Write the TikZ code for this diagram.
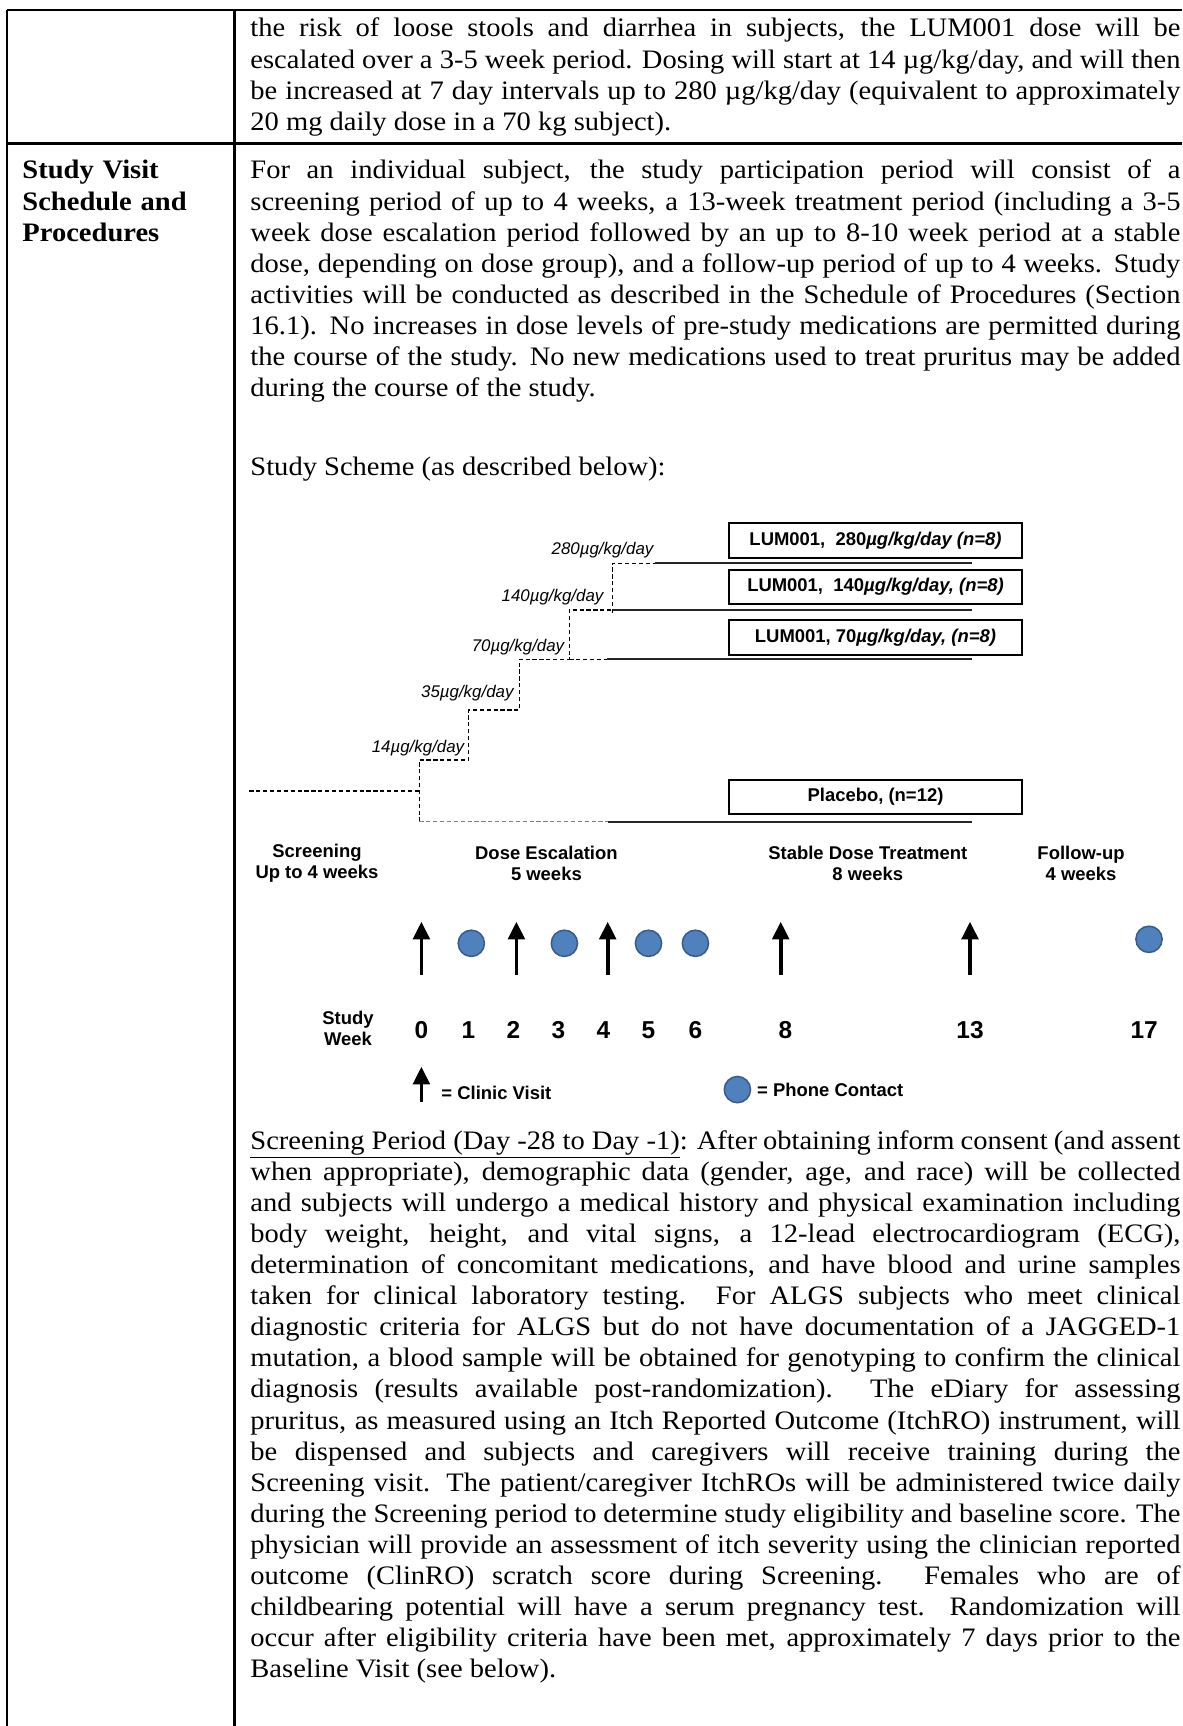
\documentclass[tikz,border=0pt]{standalone}
\usepackage{fontspec}
\setmainfont[FakeStretch=1.07]{Liberation Serif}
\setsansfont{Liberation Sans}
\usetikzlibrary{arrows.meta}
\definecolor{phoneblue}{HTML}{4F81BD}
\definecolor{phoneedge}{HTML}{385D8A}
\begin{document}
\begin{tikzpicture}[x=0.45pt,y=-0.45pt,
  tabline/.style={line width=1.2pt},
  body/.style={anchor=base west,inner sep=0pt,text width=418.5pt,align=justify,font=\fontsize{12}{14}\selectfont},
  stepline/.style={line width=0.6pt,dash pattern=on 1.9pt off 1.2pt},
  armline/.style={line width=0.8pt,black!85},
  armbox/.style={draw,line width=0.9pt,minimum width=131.6pt,minimum height=15.5pt,inner sep=0pt,font=\sffamily\bfseries\fontsize{8.3}{10}\selectfont},
  doselab/.style={inner sep=0pt,font=\sffamily\itshape\fontsize{7.6}{9}\selectfont},
  phaselab/.style={inner sep=0pt,align=center,font=\sffamily\bfseries\fontsize{8.3}{9.3}\selectfont},
  weeknum/.style={inner sep=0pt,font=\sffamily\bfseries\fontsize{11}{13}\selectfont},
  visit/.style={line width=1.7pt,-{Triangle[length=8pt,width=7.5pt]}},
  phone/.style={circle,fill=phoneblue,draw=phoneedge,line width=0.7pt,minimum size=11.8pt,inner sep=0pt}]
\useasboundingbox (0,0) rectangle (1182,1726);
%Рамка таблицы
\draw[tabline] (7,10)--(1182,10);
\draw[tabline] (7,143.3)--(1182,143.3);
\draw[tabline] (7,10)--(7,1726);
\draw[tabline] (234.3,10)--(234.3,1726);
%Первая строка
\node[body] (escpar) at (250,37) {the risk of loose stools and diarrhea in subjects, the LUM001 dose will be\linebreak
escalated over a 3-5 week period.  Dosing will start at 14 µg/kg/day, and will then\linebreak
be increased at 7 day intervals up to 280 µg/kg/day (equivalent to approximately\linebreak
20 mg daily dose in a 70 kg subject).};
%Заголовок второй строки
\node[anchor=base west,inner sep=0pt,text width=95pt,align=left,font=\bfseries\fontsize{12}{14}\selectfont] (rowhead) at (22,179) {Study Visit\\Schedule and\\Procedures};
\node[body] (partpar) at (250,179) {For an individual subject, the study participation period will consist of a\linebreak
screening period of up to 4 weeks, a 13-week treatment period (including a 3-5\linebreak
week dose escalation period followed by an up to 8-10 week period at a stable\linebreak
dose, depending on dose group), and a follow-up period of up to 4 weeks.  Study\linebreak
activities will be conducted as described in the Schedule of Procedures (Section\linebreak
16.1).  No increases in dose levels of pre-study medications are permitted during\linebreak
the course of the study.  No new medications used to treat pruritus may be added\linebreak
during the course of the study.};
\node[body] (schemehead) at (250,475) {Study Scheme (as described below):};
%Ступеньки дозы
\draw[stepline] (249.3,791)--(419.3,791);
\draw[stepline] (419.3,821.7)--(419.3,760)--(468.7,760)--(468.7,710)--(519.3,710)--(519.3,659.3)--(569.3,659.3)--(569.3,610)--(612.7,610);
\draw[stepline] (569.3,659.3)--(607,659.3);
\draw[stepline] (612.7,613)--(612.7,563.3)--(655,563.3);
\draw[stepline,gray] (419.3,821.7)--(608,821.7);
\node[doselab] (d14) at (418,747.7) {14µg/kg/day};
\node[doselab] (d35) at (467.3,693) {35µg/kg/day};
\node[doselab] (d70) at (518,646.7) {70µg/kg/day};
\node[doselab] (d140) at (552.5,597) {140µg/kg/day};
\node[doselab] (d280) at (602.5,550) {280µg/kg/day};
%Группы
\draw[armline] (655,563.3)--(972,563.3);
\draw[armline] (612.7,610)--(972,610);
\draw[armline] (607,659.3)--(972,659.3);
\draw[armline] (608,821.7)--(972,821.7);
\node[armbox] (box280) at (875.5,540.5) {LUM001,\ \ 280\textit{µg/kg/day (n=8)}};
\node[armbox] (box140) at (875.5,587.2) {LUM001,\ \ 140\textit{µg/kg/day, (n=8)}};
\node[armbox] (box70) at (875.5,637.3) {LUM001, 70\textit{µg/kg/day, (n=8)}};
\node[armbox] (boxpla) at (875.5,797.2) {Placebo, (n=12)};
%Периоды
\node[phaselab] (scrlab) at (317,863.5) {Screening\\Up to 4 weeks};
\node[phaselab] (esclab) at (546.4,863.5) {Dose Escalation\\5 weeks};
\node[phaselab] (stablab) at (867.8,863.5) {Stable Dose Treatment\\8 weeks};
\node[phaselab] (fuplab) at (1081,863.5) {Follow-up\\4 weeks};
%Визиты и звонки
\foreach \wx in {421.4,516.4,607.7,780.7,970}
  \draw[visit] (\wx,975)--(\wx,921.7);
\foreach \wx/\wy in {471.3/943.3,564.4/943.3,648.5/943.3,695.4/943.3,1149/939.3}
  \node[phone] at (\wx,\wy) {};
%Недели
\node[phaselab] (weeklab) at (348,1028.5) {Study\\Week};
\foreach \wx/\wk in {421.4/0,468.3/1,513.4/2,558.4/3,603.5/4,648.5/5,695.4/6,785.5/8,970/13,1144.2/17}
  \node[weeknum] (w\wk) at (\wx,1030) {\wk};
%Легенда
\draw[visit] (421.4,1101.7)--(421.4,1066.7);
\node[phaselab,anchor=west] (visitkey) at (441,1093) {= Clinic Visit};
\node[phone] (phonedot) at (737.4,1089.6) {};
\node[phaselab,anchor=west] (phonekey) at (756.7,1089.6) {= Phone Contact};
%Период скрининга
\node[body] (scrpar) at (250,1149) {\underline{Screening Period (Day -28 to Day -1)}:  After obtaining inform consent (and assent\linebreak
when appropriate), demographic data (gender, age, and race) will be collected\linebreak
and subjects will undergo a medical history and physical examination including\linebreak
body weight, height, and vital signs, a 12-lead electrocardiogram (ECG),\linebreak
determination of concomitant medications, and have blood and urine samples\linebreak
taken for clinical laboratory testing.  For ALGS subjects who meet clinical\linebreak
diagnostic criteria for ALGS but do not have documentation of a JAGGED-1\linebreak
mutation, a blood sample will be obtained for genotyping to confirm the clinical\linebreak
diagnosis (results available post-randomization).  The eDiary for assessing\linebreak
pruritus, as measured using an Itch Reported Outcome (ItchRO) instrument, will\linebreak
be dispensed and subjects and caregivers will receive training during the\linebreak
Screening visit. The patient/caregiver ItchROs will be administered twice daily\linebreak
during the Screening period to determine study eligibility and baseline score.  The\linebreak
physician will provide an assessment of itch severity using the clinician reported\linebreak
outcome (ClinRO) scratch score during Screening.  Females who are of\linebreak
childbearing potential will have a serum pregnancy test.  Randomization will\linebreak
occur after eligibility criteria have been met, approximately 7 days prior to the\linebreak
Baseline Visit (see below).};
\end{tikzpicture}
\end{document}
